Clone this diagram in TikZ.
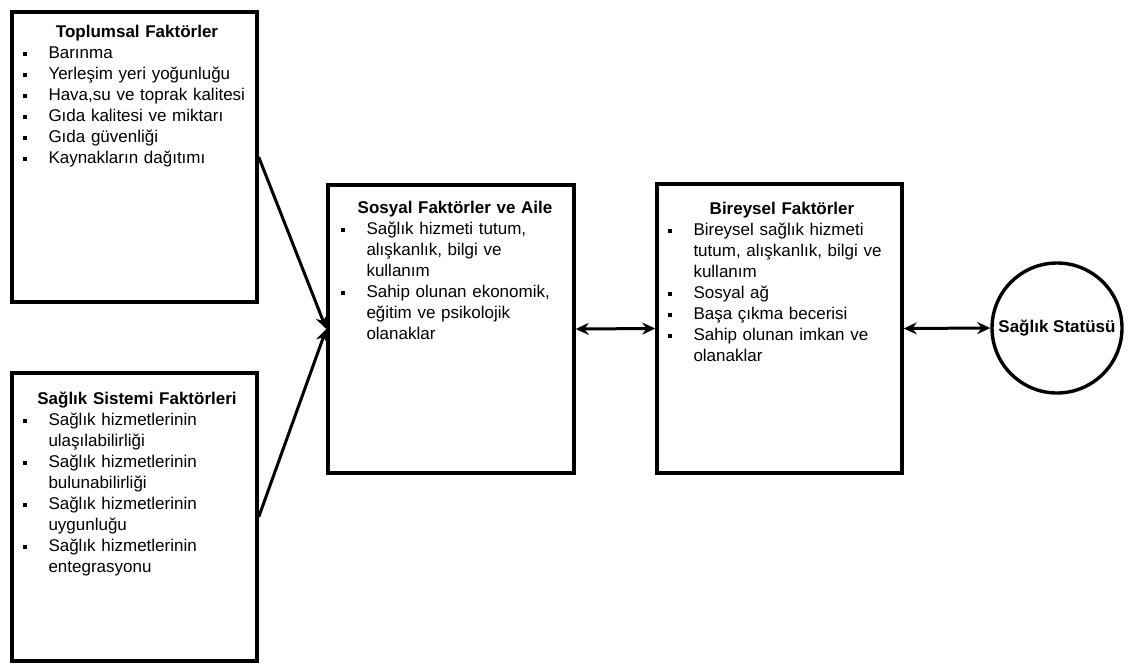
\documentclass[tikz,border=0pt]{standalone}
\usepackage{fontspec}
\setmainfont{Liberation Sans}
\usetikzlibrary{positioning,arrows.meta}

% title line and bullet item inside a box
\newcommand{\boxtitle}[1]{{\centering\bfseries #1\par}}
\newcommand{\bitem}{\par\noindent\hangindent=26pt\hangafter=1\makebox[26pt][l]{\rule[2.5pt]{4pt}{4pt}}}

\tikzset{
  factorbox/.style={draw, line width=3.4pt, minimum width=245pt, minimum height=289pt, inner sep=0pt},
  boxtext/.style={anchor=north west, text width=229pt, inner sep=0pt,
    execute at begin node=\raggedright, font=\fontsize{17}{21}\selectfont},
  link/.style={line width=3pt, -{Stealth[length=13pt,width=12pt]}},
  twoway/.style={line width=3pt, {Stealth[length=13pt,width=12pt]}-{Stealth[length=13pt,width=12pt]}}
}

\begin{document}
\begin{tikzpicture}[x=1pt, y=-1pt]
  \useasboundingbox (0,0) rectangle (1131,664);

  % Boxes
  \node[factorbox, minimum height=290pt] (toplum) at (134.5,157) {};
  \node[factorbox, minimum height=288pt] (sistem) at (134.5,517) {};
  \node[factorbox, minimum width=246pt, minimum height=288pt] (sosyal) at (451,329) {};
  \node[factorbox] (birey) at (779.5,328.5) {};
  \node[circle, draw, line width=3.4pt, minimum size=130pt, inner sep=0pt,
    font=\fontsize{17}{21}\selectfont\bfseries] (statu) at (1057,328) {Sağlık Statüsü};

  % Box texts
  \node[boxtext, below right=15pt and 12pt of toplum.north west] (toplumtext) {%
    \boxtitle{Toplumsal Faktörler}
    \bitem Barınma
    \bitem Yerleşim yeri yoğunluğu
    \bitem Hava,su ve toprak kalitesi
    \bitem Gıda kalitesi ve miktarı
    \bitem Gıda güvenliği
    \bitem Kaynakların dağıtımı\par};
  \node[boxtext, below right=20pt and 12pt of sistem.north west] (sistemtext) {%
    \boxtitle{Sağlık Sistemi Faktörleri}
    \bitem Sağlık hizmetlerinin\newline ulaşılabilirliği
    \bitem Sağlık hizmetlerinin\newline bulunabilirliği
    \bitem Sağlık hizmetlerinin\newline uygunluğu
    \bitem Sağlık hizmetlerinin\newline entegrasyonu\par};
  \node[boxtext, below right=18pt and 14pt of sosyal.north west] (sosyaltext) {%
    \boxtitle{Sosyal Faktörler ve Aile}
    \bitem Sağlık hizmeti tutum,\newline alışkanlık, bilgi ve\newline kullanım
    \bitem Sahip olunan ekonomik,\newline eğitim ve psikolojik\newline olanaklar\par};
  \node[boxtext, below right=20pt and 12pt of birey.north west] (bireytext) {%
    \boxtitle{Bireysel Faktörler}
    \bitem Bireysel sağlık hizmeti\newline tutum, alışkanlık, bilgi ve\newline kullanım
    \bitem Sosyal ağ
    \bitem Başa çıkma becerisi
    \bitem Sahip olunan imkan ve\newline olanaklar\par};

  % Connectors
  \foreach \src in {toplum,sistem}
    \draw[link] (\src.east) -- (sosyal.west);
  \draw[twoway] (sosyal.east) -- (birey.west);
  \draw[twoway] (birey.east) -- (statu.west);
\end{tikzpicture}
\end{document}
